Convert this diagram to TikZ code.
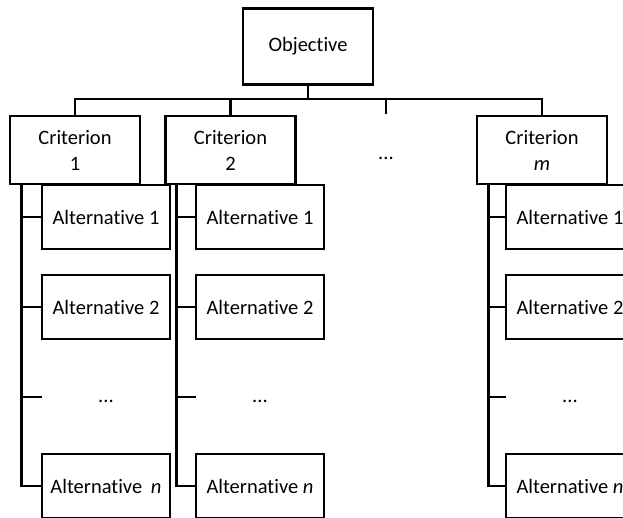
\documentclass[tikz,border=0pt]{standalone}
\usepackage{fontspec}
\setmainfont[Ligatures={NoCommon}]{Carlito}
\begin{document}
\begin{tikzpicture}[x=1pt,y=-1pt,
  every node/.style={font=\fontsize{20.5}{26}\selectfont},
  box/.style={draw,line width=2.6pt,inner sep=0pt,align=center},
  objbox/.style={box,minimum width=130pt,minimum height=76pt},
  critbox/.style={box,minimum width=130pt,minimum height=68pt},
  altbox/.style={box,minimum width=128pt,minimum height=64pt},
  conn/.style={line width=2.6pt}]
\useasboundingbox (0,0) rectangle (623,517);
\clip (0,0) rectangle (623,517);
% objective and criteria
\node[objbox] (obj) at (308,46.5) {Objective};
\node[critbox] (c1) at (75,150) {Criterion\\1};
\node[critbox] (c2) at (230.5,150) {Criterion\\2};
\node[critbox] (cm) at (542,150) {Criterion\\\textit{m}};
\node (cdots) at (386,158) {...};
\coordinate (bar) at (308,99);
\coordinate (stub) at (386,114);
\draw[conn] (obj.south) -- (bar);
\draw[conn] (c1.north) -- (c1.north |- bar) -- (cm.north |- bar) -- (cm.north);
\draw[conn] (c2.north) -- (c2.north |- bar);
\draw[conn] (stub) -- (stub |- bar);
% alternatives column 1
\node[altbox] (a11) at (106,217) {Alternative 1};
\node[altbox] (a12) at (106,307) {Alternative 2};
\node (a1d) at (106,401) {...};
\node[altbox] (a1n) at (106,486) {Alternative\hspace{0.2em} \textit{n}};
% column 2
\node[altbox] (a21) at (260,217) {Alternative 1};
\node[altbox] (a22) at (260,307) {Alternative 2};
\node (a2d) at (260,401) {...};
\node[altbox] (a2n) at (260,486) {Alternative \textit{n}};
% column m
\node[altbox] (am1) at (570,217) {Alternative 1};
\node[altbox] (am2) at (570,307) {Alternative 2};
\node (amd) at (570,401) {...};
\node[altbox] (amn) at (570,486) {Alternative \textit{n}};
% vertical trunks
\coordinate (t1) at ([xshift=12.5pt]c1.south west);
\coordinate (t2) at ([xshift=12.5pt]c2.south west);
\coordinate (tm) at ([xshift=12.5pt]cm.south west);
\coordinate (d1) at (42,397);
\coordinate (d2) at (196,397);
\coordinate (dm) at (506,397);
\draw[conn] (t1) |- (a1n.west);
\draw[conn] (a11.west) -- (a11.west -| t1);
\draw[conn] (a12.west) -- (a12.west -| t1);
\draw[conn] (d1) -- (d1 -| t1);
\draw[conn] (t2) |- (a2n.west);
\draw[conn] (a21.west) -- (a21.west -| t2);
\draw[conn] (a22.west) -- (a22.west -| t2);
\draw[conn] (d2) -- (d2 -| t2);
\draw[conn] (tm) |- (amn.west);
\draw[conn] (am1.west) -- (am1.west -| tm);
\draw[conn] (am2.west) -- (am2.west -| tm);
\draw[conn] (dm) -- (dm -| tm);
\end{tikzpicture}
\end{document}
